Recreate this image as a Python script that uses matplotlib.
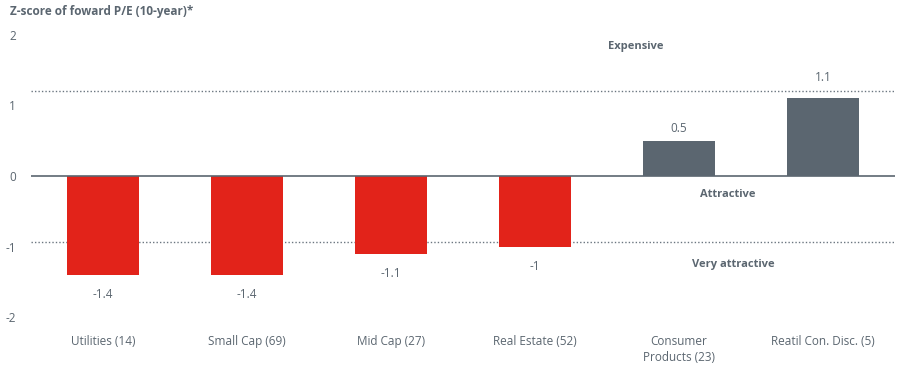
import matplotlib
matplotlib.use("Agg")
import matplotlib.pyplot as plt

categories = ["Utilities (14)", "Small Cap (69)", "Mid Cap (27)", "Real Estate (52)",
              "Consumer\nProducts (23)", "Reatil Con. Disc. (5)"]
values = [-1.4, -1.4, -1.1, -1.0, 0.5, 1.1]
value_labels = ["-1.4", "-1.4", "-1.1", "-1", "0.5", "1.1"]
upper_threshold = 1.2
lower_threshold = -0.94
yticks = [-2, -1, 0, 1, 2]

plt.rcParams['font.family'] = ['Open Sans', 'DejaVu Sans']
TXT = "#5b6670"
RED = "#e2231a"
GRAY = "#5b6670"

fig = plt.figure(figsize=(9.04, 3.67), dpi=100)
ax = fig.add_axes([31/904, 1-317/367, (895-31)/904, (317-35)/367])

x = list(range(len(categories)))
colors = [RED if v < 0 else GRAY for v in values]
ax.bar(x, values, width=0.495, color=colors, zorder=2)
ax.axhline(0, color=GRAY, lw=1.2, zorder=3)
ax.axhline(upper_threshold, color="#6b7680", lw=1, ls=(0, (1, 1.5)), zorder=1)
ax.axhline(lower_threshold, color="#6b7680", lw=1, ls=(0, (1, 1.5)), zorder=1)

for xi, v, lab in zip(x, values, value_labels):
    if v < 0:
        ax.text(xi, v - 0.19, lab, ha="center", va="top", fontsize=8.5, color=TXT)
    else:
        base = v + 0.08
        if base < upper_threshold + 0.05 and v + 0.3 > upper_threshold:
            base = upper_threshold + 0.1
        ax.text(xi, base, lab, ha="center", va="bottom", fontsize=8.5, color=TXT)

ax.text(3.7, 1.84, "Expensive", ha="center", va="center", fontsize=8, fontweight="bold", color=TXT)
ax.text(4.34, -0.26, "Attractive", ha="center", va="center", fontsize=8, fontweight="bold", color=TXT)
ax.text(4.38, -1.25, "Very attractive", ha="center", va="center", fontsize=8, fontweight="bold", color=TXT)

ax.set_xlim(-0.5, 5.5)
ax.set_ylim(-2, 2)
ax.set_yticks(yticks)
ax.set_yticklabels([str(t) for t in yticks], fontsize=8.5, color=TXT)
ax.set_xticks(x)
ax.set_xticklabels(categories, fontsize=8.5, color=TXT, linespacing=1.25)
ax.tick_params(axis="y", length=0, pad=11)
ax.tick_params(axis="x", length=0, pad=13)
for s in ax.spines.values():
    s.set_visible(False)

fig.text(10/904, 1-12/367, "Z-score of foward P/E (10-year)*", ha="left", va="center",
         fontsize=8.5, fontweight="bold", color=TXT)

fig.savefig("out.png", dpi=100, facecolor="white")
